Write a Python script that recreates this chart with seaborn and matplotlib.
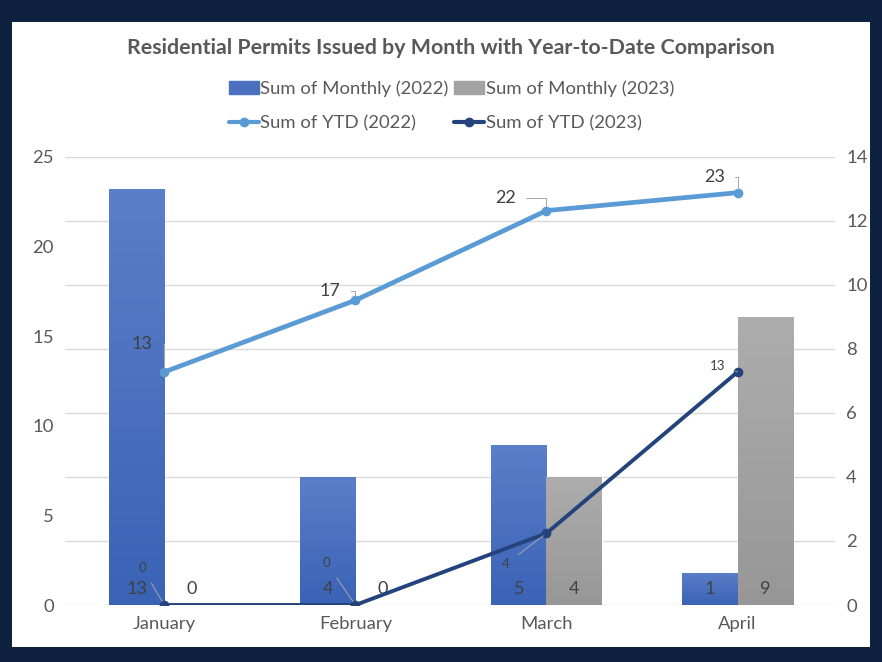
import matplotlib
matplotlib.use("Agg")
import matplotlib.pyplot as plt
import matplotlib.patches as mpatches
from matplotlib.colors import LinearSegmentedColormap
from matplotlib.lines import Line2D
import seaborn as sns
import numpy as np
import pandas as pd

months = ['January', 'February', 'March', 'April']
monthly_2022 = [13, 4, 5, 1]
monthly_2023 = [0, 0, 4, 9]
ytd_2022 = [13, 17, 22, 23]
ytd_2023 = [0, 0, 4, 13]

# colours picked off the excel chart
c_bar22 = '#4A70BE'
c_bar23 = '#A3A3A3'
c_ytd22 = '#5B9BD5'
c_ytd23 = '#24437C'
txt = '#595959'
# excel bars have a light gradient: (bottom, top)
grad = [('#3A63B6', '#5B7EC8'), ('#979797', '#ADADAD')]

sns.set_theme(style='white')
plt.rcParams['font.family'] = ['Lato', 'DejaVu Sans']

bars = pd.DataFrame({
    'Month': months * 2,
    'Value': monthly_2022 + monthly_2023,
    'Series': ['Sum of Monthly (2022)'] * 4 + ['Sum of Monthly (2023)'] * 4,
})

fig = plt.figure(figsize=(8.82, 6.62), dpi=100, facecolor='#0E2240')
# white chart panel inside the dark frame
fig.patches.append(mpatches.Rectangle((0.0136, 0.0227), 0.9728, 0.944, transform=fig.transFigure,
                                      facecolor='white', edgecolor='none', zorder=-10))

ax = fig.add_axes([0.0737, 0.0861, 0.873, 0.677])
ax.set_facecolor('none')
sns.barplot(data=bars, x='Month', y='Value', hue='Series', order=months,
            palette=[c_bar22, c_bar23], width=0.58, ax=ax, legend=False, saturation=1)

# paint gradient over each bar
for cont, (lo, hi) in zip(ax.containers, grad):
    cmap = LinearSegmentedColormap.from_list('g', [lo, hi])
    for b in cont:
        h = b.get_height()
        if h <= 0:
            continue
        im = ax.imshow(np.linspace(1, 0, 64).reshape(-1, 1), cmap=cmap, aspect='auto',
                       extent=[b.get_x(), b.get_x() + b.get_width(), 0, h],
                       zorder=b.get_zorder(), interpolation='bilinear')
        im.set_clip_path(b)

ax.set_ylim(0, 14)
ax.set_xlim(-0.52, 3.51)
ax.set_yticks(np.arange(0, 15, 2))
ax.grid(axis='y', color='#D9D9D9', linewidth=1)
ax.set_axisbelow(True)
for s in ax.spines.values():
    s.set_visible(False)
ax.set_xlabel('')
ax.set_ylabel('')
ax.tick_params(axis='both', length=0, labelsize=13.3, labelcolor=txt, pad=8)

# bar value labels sit at the base of each bar
for cont in ax.containers:
    for b in cont:
        ax.annotate(f'{b.get_height():.0f}', (b.get_x() + b.get_width() / 2, 0),
                    xytext=(0, 8), textcoords='offset pixels', ha='center', va='bottom',
                    fontsize=13, color='#404040', zorder=5)

ax2 = ax.twinx()
x = np.arange(len(months))
sns.lineplot(x=x, y=ytd_2022, ax=ax2, color=c_ytd22, linewidth=3.4, marker='o',
             markersize=7, markeredgewidth=0)
sns.lineplot(x=x, y=ytd_2023, ax=ax2, color=c_ytd23, linewidth=2.8, marker='o',
             markersize=7, markeredgewidth=0)
ax2.set_ylim(0, 25)
ax2.set_yticks(np.arange(0, 26, 5))
ax2.grid(False)
for s in ax2.spines.values():
    s.set_visible(False)
ax2.tick_params(axis='y', length=0, labelsize=13.3, labelcolor=txt, pad=8)
ax2.set_ylabel('')
# bars use the right scale, lines the left one
ax.yaxis.tick_right()
ax2.yaxis.tick_left()

# line labels with leader lines (offsets in pixels)
off22 = [(-22, 28), (-25, 9), (-41, 13), (-23, 16)]
off23 = [(-22, 37), (-29, 42), (-41, -31), (-20, 6)]
for vals, offs, fs, conn in [(ytd_2022, off22, 13, 'angle,angleA=0,angleB=90,rad=0'),
                             (ytd_2023, off23, 9.5, 'arc3')]:
    for i, v in enumerate(vals):
        ax2.annotate(str(v), (i, v), xytext=offs[i], textcoords='offset pixels',
                     ha='center', va='center', fontsize=fs, color='#404040',
                     arrowprops=dict(arrowstyle='-', color='#A6A6A6', lw=0.7,
                                     shrinkA=5, shrinkB=3, connectionstyle=conn))

fig.text(0.511, 0.9275, 'Residential Permits Issued by Month with Year-to-Date Comparison',
         ha='center', va='center', fontsize=15.4, fontweight='bold', color=txt)

handles = [
    mpatches.Patch(color=c_bar22, label='Sum of Monthly (2022)'),
    Line2D([], [], color=c_ytd22, lw=3, marker='o', ms=6, label='Sum of YTD (2022)'),
    mpatches.Patch(color=c_bar23, label='Sum of Monthly (2023)'),
    Line2D([], [], color=c_ytd23, lw=3, marker='o', ms=6, label='Sum of YTD (2023)'),
]
leg = fig.legend(handles=handles, ncol=2, loc='center', bbox_to_anchor=(0.512, 0.84),
                 frameon=False, fontsize=13.3, handlelength=1.6, handletextpad=0.1,
                 columnspacing=0.3, labelspacing=0.95)
for t in leg.get_texts():
    t.set_color(txt)

fig.savefig('out.png', dpi=100, facecolor=fig.get_facecolor())
